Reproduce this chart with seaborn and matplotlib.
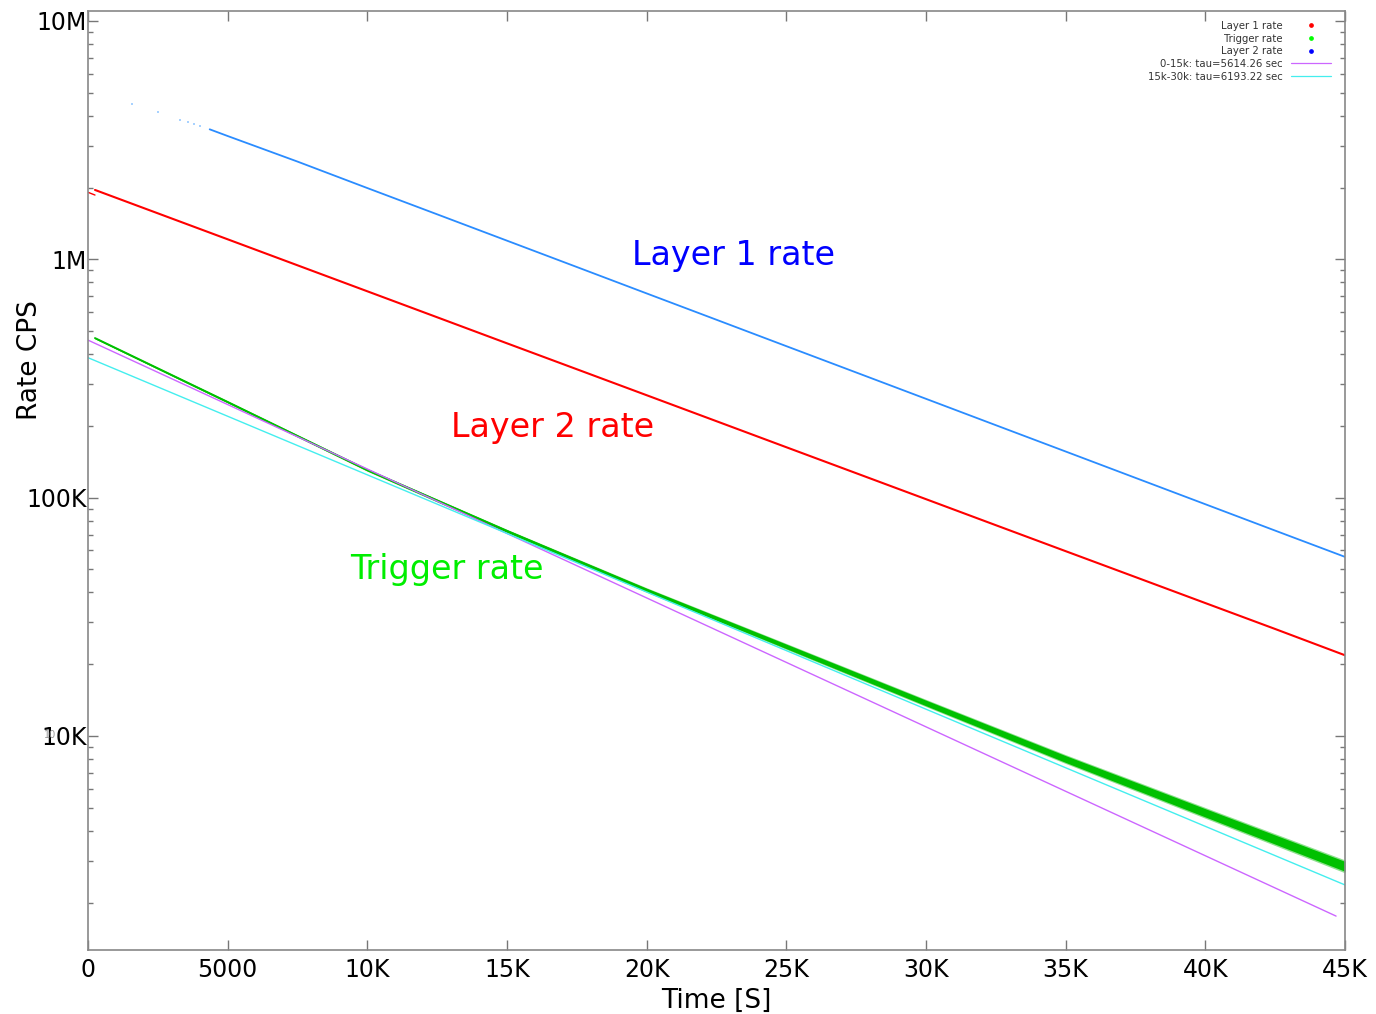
import numpy as np
import pandas as pd
import matplotlib
matplotlib.use("Agg")
import matplotlib.pyplot as plt
import seaborn as sns
from matplotlib.ticker import FixedLocator, FuncFormatter, LogLocator, NullFormatter
from matplotlib.lines import Line2D

# ---------------- data ----------------
# Layer 1 rate (blue) sampled along the trace
l1_time = [4357, 5000, 7500, 10000, 12500, 15000, 17500, 20000, 22500, 25000,
           27500, 30000, 32500, 35000, 37500, 40000, 42500, 45000]
l1_rate = [3.51e6, 3.29e6, 2.57e6, 1.99e6, 1.544e6, 1.197e6, 9.28e5, 7.19e5, 5.575e5, 4.32e5,
           3.35e5, 2.597e5, 2.013e5, 1.561e5, 1.21e5, 9.38e4, 7.27e4, 5.64e4]
# sparse early Layer 1 points
l1_sparse_time = [1586, 2517, 3304, 3591, 3784, 4020]
l1_sparse_rate = [4.47e6, 4.14e6, 3.85e6, 3.76e6, 3.71e6, 3.61e6]

# Layer 2 rate (red)
l2_time = [250, 2500, 5000, 7500, 10000, 12500, 15000, 17500, 20000, 22500,
           25000, 27500, 30000, 32500, 35000, 37500, 40000, 42500, 45000]
l2_rate = [1.954e6, 1.559e6, 1.213e6, 9.435e5, 7.34e5, 5.71e5, 4.44e5, 3.456e5, 2.689e5, 2.092e5,
           1.627e5, 1.266e5, 9.85e4, 7.66e4, 5.96e4, 4.64e4, 3.61e4, 2.81e4, 2.18e4]
# short early Layer 2 piece
l2_early_time = [0, 250]
l2_early_rate = [1.91e6, 1.86e6]

# Trigger rate (green) and its scatter half-width (relative)
tr_time = [250, 5000, 10000, 15000, 20000, 25000, 30000, 35000, 40000, 45000]
tr_rate = [4.67e5, 2.519e5, 1.306e5, 7.24e4, 4.095e4, 2.375e4, 1.375e4, 8.0e3, 4.76e3, 2.84e3]
tr_spread = [0.006, 0.008, 0.010, 0.013, 0.017, 0.022, 0.027, 0.033, 0.040, 0.048]

# exponential fits
fit1_time = [0, 44680]
fit1_rate = [4.58e5, 1.754e3]
fit2_time = [0, 45000]
fit2_rate = [3.865e5, 2.37e3]

x_ticks = [0, 5000, 10000, 15000, 20000, 25000, 30000, 35000, 40000, 45000]
x_labels = ["0", "5000", "10K", "15K", "20K", "25K", "30K", "35K", "40K", "45K"]
y_ticks = [1e4, 1e5, 1e6, 1e7]
y_labels = ["10K", "100K", "1M", "10M"]

legend_labels = ["Layer 1 rate", "Trigger rate", "Layer 2 rate",
                 "0-15k: tau=5614.26 sec", "15k-30k: tau=6193.22 sec"]

# ---------------- figure ----------------
sns.set_theme(style="white")
plt.rcParams["font.family"] = ["DejaVu Sans"]

fig = plt.figure(figsize=(13.76, 10.14), dpi=100)
ax = fig.add_axes([88 / 1376, 1 - 950 / 1014, (1345 - 88) / 1376, (950 - 11) / 1014])

BLUE = "#2a8cff"
RED = "#ff0000"
GREEN = "#00c000"
MAG = "#cc66ff"
CYAN = "#44eeee"

df_l1 = pd.DataFrame({"t": l1_time, "r": l1_rate})
df_l2 = pd.DataFrame({"t": l2_time, "r": l2_rate})
df_tr = pd.DataFrame({"t": tr_time, "r": tr_rate})
df_f1 = pd.DataFrame({"t": fit1_time, "r": fit1_rate})
df_f2 = pd.DataFrame({"t": fit2_time, "r": fit2_rate})

ax.set_yscale("log")

sns.lineplot(data=df_l1, x="t", y="r", ax=ax, color=BLUE, lw=1.3, legend=False)
sns.scatterplot(x=l1_sparse_time, y=l1_sparse_rate, ax=ax, color="#a8d2ff",
                s=4, marker="s", linewidth=0, legend=False)
sns.lineplot(data=df_l2, x="t", y="r", ax=ax, color=RED, lw=1.5, legend=False)
sns.lineplot(x=l2_early_time, y=l2_early_rate, ax=ax, color=RED, lw=1.0, legend=False)

tr = np.array(tr_rate)
sp = np.array(tr_spread)
ax.fill_between(tr_time, tr * (1 - sp * 1.3), tr * (1 + sp * 1.3), color="#8fe08f", lw=0)
ax.fill_between(tr_time, tr * (1 - sp), tr * (1 + sp), color=GREEN, lw=0)
sns.lineplot(data=df_tr, x="t", y="r", ax=ax, color=GREEN, lw=1.4, legend=False)

sns.lineplot(data=df_f1, x="t", y="r", ax=ax, color=MAG, lw=1.0, legend=False)
sns.lineplot(data=df_f2, x="t", y="r", ax=ax, color=CYAN, lw=1.0, legend=False)

ax.set_xlim(0, 45000)
ax.set_ylim(1264, 1.101e7)

# annotations
ax.text(23091, 1.04e6, "Layer 1 rate", color="#0000ff", fontsize=24, ha="center", va="center")
ax.text(16647, 1.978e5, "Layer 2 rate", color="#ff0000", fontsize=24, ha="center", va="center")
ax.text(12852, 4.97e4, "Trigger rate", color="#00ee00", fontsize=24, ha="center", va="center")

# ticks
ax.xaxis.set_major_locator(FixedLocator(x_ticks))
ax.set_xticklabels(x_labels)
ax.yaxis.set_major_locator(FixedLocator(y_ticks))
ax.yaxis.set_major_formatter(FuncFormatter(lambda v, p: dict(zip(y_ticks, y_labels)).get(v, "")))
ax.yaxis.set_minor_locator(LogLocator(base=10, subs=np.arange(2, 10)))
ax.yaxis.set_minor_formatter(NullFormatter())
ax.tick_params(axis="both", which="major", direction="in", length=7, width=1.0,
               color="#777777", labelsize=17, labelcolor="black",
               top=True, right=True, bottom=True, left=True)
ax.tick_params(axis="y", which="minor", direction="in", length=3.5, width=1.0,
               color="#777777", left=True, right=True)
ax.tick_params(axis="x", which="major", pad=6)
ax.tick_params(axis="y", which="major", pad=1)
for s in ax.spines.values():
    s.set_color("#888888")
    s.set_linewidth(1.2)

ax.set_xlabel("Time [S]", fontsize=19, color="black", labelpad=4)
ax.set_ylabel("Rate CPS", fontsize=19, color="black", va="center")
ax.yaxis.set_label_coords(-0.046, (950 - 360) / 939)

fig.text(50 / 1376, 1 - 735 / 1014, "10", fontsize=7, color="#999999", ha="center", va="center")

# legend
handles = [
    Line2D([], [], ls="none", marker="o", ms=2.4, color="#ff0000"),
    Line2D([], [], ls="none", marker="o", ms=2.4, color="#00ff00"),
    Line2D([], [], ls="none", marker="o", ms=2.4, color="#0000ff"),
    Line2D([], [], color=MAG, lw=0.9),
    Line2D([], [], color=CYAN, lw=0.9),
]
leg = ax.legend(handles, legend_labels, loc="upper right",
                bbox_to_anchor=((1331 - 88) / 1257, (950 - 21) / 939),
                frameon=False, markerfirst=False, fontsize=7.3, borderpad=0,
                borderaxespad=0, handlelength=3.9, handletextpad=0.9, labelspacing=0.26)
for t in leg.get_texts():
    t.set_color("#333333")

fig.savefig("out.png", dpi=100)
